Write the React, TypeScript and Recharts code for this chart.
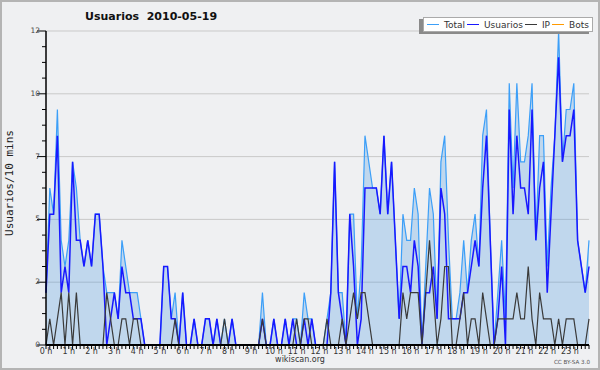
import { Area, CartesianGrid, ComposedChart, Legend, Line, XAxis, YAxis } from "recharts"

// users per 10-minute slot, 00:00 .. 23:50 (12 slots = 2 hours per row)
const total = [
  2, 6, 5, 9, 4, 3, 4, 7, 6, 4, 3, 4,
  3, 5, 5, 3, 2, 2, 2, 1, 4, 3, 2, 2,
  2, 1, 0, 0, 0, 0, 0, 3, 3, 1, 2, 0,
  2, 0, 0, 1, 0, 0, 1, 1, 0, 1, 0, 1,
  0, 1, 0, 0, 0, 0, 0, 0, 0, 2, 0, 0,
  1, 0, 0, 1, 0, 1, 1, 0, 2, 1, 1, 0,
  0, 0, 1, 2, 7, 2, 2, 0, 5, 5, 1, 3,
  8, 7, 6, 6, 5, 8, 5, 7, 4, 1, 5, 4,
  4, 6, 5, 0, 3, 6, 5, 1, 7, 8, 4, 1,
  1, 2, 4, 2, 4, 5, 3, 8, 9, 4, 0, 2,
  4, 1, 10, 6, 10, 7, 7, 8, 10, 4, 8, 8,
  3, 6, 8, 12, 7, 9, 9, 10, 4, 3, 2, 4,
]

const usuarios = [
  2, 5, 5, 8, 2, 3, 2, 7, 4, 4, 3, 4,
  3, 5, 5, 3, 0, 1, 2, 1, 3, 2, 2, 1,
  1, 1, 0, 0, 0, 0, 0, 3, 3, 1, 1, 0,
  2, 0, 0, 1, 0, 0, 1, 1, 0, 1, 0, 0,
  0, 1, 0, 0, 0, 0, 0, 0, 0, 1, 0, 0,
  1, 0, 0, 1, 0, 1, 0, 0, 1, 0, 1, 0,
  0, 0, 0, 2, 7, 2, 1, 0, 5, 3, 0, 1,
  6, 6, 6, 6, 5, 8, 5, 7, 4, 1, 3, 3,
  2, 4, 3, 0, 2, 2, 3, 1, 6, 5, 1, 1,
  1, 1, 2, 2, 3, 4, 3, 6, 8, 4, 0, 1,
  3, 0, 9, 5, 8, 6, 6, 5, 9, 4, 6, 7,
  2, 5, 8, 11, 7, 8, 8, 9, 4, 3, 2, 3,
]

const ip = [
  0, 1, 0, 1, 2, 0, 2, 0, 2, 0, 0, 0,
  0, 0, 0, 0, 2, 1, 0, 0, 1, 1, 0, 1,
  1, 0, 0, 0, 0, 0, 0, 0, 0, 0, 1, 0,
  0, 0, 0, 0, 0, 0, 0, 0, 0, 0, 0, 1,
  0, 0, 0, 0, 0, 0, 0, 0, 0, 1, 0, 0,
  0, 0, 0, 0, 0, 0, 1, 0, 1, 1, 0, 0,
  0, 0, 1, 0, 0, 0, 1, 0, 1, 2, 1, 2,
  2, 1, 0, 0, 0, 0, 0, 0, 0, 0, 2, 1,
  2, 2, 2, 0, 2, 4, 2, 0, 1, 3, 3, 0,
  0, 1, 2, 0, 1, 1, 0, 2, 1, 0, 0, 1,
  1, 1, 1, 1, 2, 1, 1, 3, 1, 0, 2, 1,
  1, 1, 0, 1, 0, 1, 1, 1, 0, 0, 0, 1,
]

const bots = [
  0, 0, 0, 0, 0, 0, 0, 0, 0, 0, 0, 0,
  0, 0, 0, 0, 0, 0, 0, 0, 0, 0, 0, 0,
  0, 0, 0, 0, 0, 0, 0, 0, 0, 0, 0, 0,
  0, 0, 0, 0, 0, 0, 0, 0, 0, 0, 0, 0,
  0, 0, 0, 0, 0, 0, 0, 0, 0, 0, 0, 0,
  0, 0, 0, 0, 0, 0, 0, 0, 0, 0, 0, 0,
  0, 0, 0, 0, 0, 0, 0, 0, 0, 0, 0, 0,
  0, 0, 0, 0, 0, 0, 0, 0, 0, 0, 0, 0,
  0, 0, 0, 0, 0, 0, 0, 0, 0, 0, 0, 0,
  0, 0, 0, 0, 0, 0, 0, 0, 0, 0, 0, 0,
  0, 0, 0, 0, 0, 0, 0, 0, 0, 0, 0, 0,
  0, 0, 0, 0, 0, 0, 0, 0, 0, 0, 0, 0,
]

const hourLabels = [
  "0 h", "1 h", "2 h", "3 h", "4 h", "5 h", "6 h", "7 h", "8 h", "9 h", "10 h", "11 h",
  "12 h", "13 h", "14 h", "15 h", "16 h", "17 h", "18 h", "19 h", "20 h", "21 h", "22 h", "23 h",
]

// every 4th tick is a labelled one (0, 2.4, 4.8 ...)
const yTicks = [0, 0.6, 1.2, 1.8, 2.4, 3, 3.6, 4.2, 4.8, 5.4, 6, 6.6, 7.2, 7.8, 8.4, 9, 9.6, 10.2, 10.8, 11.4, 12]
const yMajor = [0, 2.4, 4.8, 7.2, 9.6, 12]

const series = [
  { key: "total", name: "Total", color: "#3c9ff8" },
  { key: "usuarios", name: "Usuarios", color: "#1818ff" },
  { key: "ip", name: "IP", color: "#3a3a3a" },
  { key: "bots", name: "Bots", color: "#ff9a00" },
]

const data = total.map((t, i) => ({ slot: i, total: t, usuarios: usuarios[i], ip: ip[i], bots: bots[i] }))
const slots = data.map((d) => d.slot)

const font = "'DejaVu Sans', sans-serif"

function XTick(props: any) {
  const { x, y, payload } = props
  const v = payload.value
  const hour = v % 6 === 0
  return (
    <g>
      <line x1={x} x2={x} y1={y} y2={y + 4} stroke="#000" strokeWidth={1} />
      {hour && (
        <text x={x} y={y + 9} textAnchor="middle" fontSize={8} fontFamily={font} fill="#333">
          {hourLabels[v / 6]}
        </text>
      )}
    </g>
  )
}

function YTick(props: any) {
  const { x, y, payload, index } = props
  const major = index % 4 === 0
  return (
    <g>
      <line x1={x - (major ? 9 : 4)} x2={x} y1={y} y2={y} stroke="#000" strokeWidth={1} />
      {major && (
        <text x={x - 6} y={y + 2} textAnchor="end" fontSize={7.5} fontFamily={font} fill="#444">
          {Math.round(payload.value)}
        </text>
      )}
    </g>
  )
}

function LegendBox() {
  return (
    <div style={{ position: "relative", width: 170 }}>
      <div style={{ position: "absolute", left: -4, top: 2, width: 170, height: 15, background: "#8a8a8a" }} />
      <div
        style={{
          position: "relative",
          boxSizing: "border-box",
          display: "flex",
          alignItems: "center",
          width: 170,
          height: 15,
          background: "#fff",
          border: "1px solid #aaa",
          padding: "0 3px 0 3px",
          font: `9px ${font}`,
          color: "#333",
          whiteSpace: "nowrap",
        }}
      >
        {series.map((s) => (
          <span key={s.key} style={{ display: "flex", alignItems: "center", marginRight: 2 }}>
            <span style={{ display: "inline-block", width: 12, height: 0, borderTop: `1.5px solid ${s.color}`, marginRight: 5 }} />
            {s.name}
          </span>
        ))}
      </div>
    </div>
  )
}

export default function App() {
  return (
    <div style={{ position: "fixed", left: 0, top: 0, width: 600, height: 370, background: "#eff0f2", fontFamily: font }}>
      <ComposedChart width={600} height={370} data={data} margin={{ top: 31, right: 11, bottom: 5, left: 6 }}>
        <CartesianGrid vertical={false} horizontalValues={yMajor} stroke="#c9c9c9" />
        <XAxis
          dataKey="slot"
          type="number"
          domain={[0, 143]}
          ticks={slots}
          interval={0}
          height={20}
          tickSize={0}
          tickMargin={0}
          tickLine={false}
          tick={<XTick />}
          axisLine={{ stroke: "#000", strokeWidth: 2 }}
        />
        <YAxis
          type="number"
          domain={[0, 12]}
          ticks={yTicks}
          interval={0}
          width={40}
          tickSize={0}
          tickMargin={0}
          tickLine={false}
          tick={<YTick />}
          axisLine={{ stroke: "#000", strokeWidth: 1.5 }}
        />
        <Legend
          layout="vertical"
          align="center"
          verticalAlign="middle"
          content={<LegendBox />}
          wrapperStyle={{ left: 423, top: 17, width: 170, height: 17 }}
        />
        <Area
          type="linear"
          dataKey="total"
          name="Total"
          stroke={series[0].color}
          strokeWidth={1.2}
          fill="#3a8fe0"
          fillOpacity={0.26}
          dot={false}
          activeDot={false}
          isAnimationActive={false}
        />
        <Line type="linear" dataKey="usuarios" name="Usuarios" stroke={series[1].color} strokeWidth={1.5} dot={false} activeDot={false} isAnimationActive={false} />
        <Line type="linear" dataKey="ip" name="IP" stroke={series[2].color} strokeWidth={1.2} dot={false} activeDot={false} isAnimationActive={false} />
        <Line type="linear" dataKey="bots" name="Bots" stroke={series[3].color} strokeWidth={1.2} dot={false} activeDot={false} isAnimationActive={false} />
      </ComposedChart>

      <div style={{ position: "absolute", left: 85, top: 10, fontSize: 11, fontWeight: "bold", lineHeight: "13px", color: "#111", whiteSpace: "pre" }}>
        {"Usuarios  2010-05-19"}
      </div>
      <div
        style={{
          position: "absolute",
          left: 9,
          top: 183,
          transform: "translate(-50%, -50%) rotate(-90deg)",
          fontFamily: "'DejaVu Sans Mono', monospace",
          fontSize: 11,
          color: "#222",
          whiteSpace: "nowrap",
        }}
      >
        Usuarios/10 mins
      </div>
      <div style={{ position: "absolute", left: 300, top: 355, transform: "translateX(-50%)", fontSize: 8, lineHeight: "10px", color: "#333" }}>
        wikiscan.org
      </div>
      <div style={{ position: "absolute", right: 10, top: 359, fontSize: 5.6, lineHeight: "7px", color: "#555", whiteSpace: "nowrap" }}>
        CC BY-SA 3.0
      </div>
      <div style={{ position: "absolute", left: 0, top: 0, width: 600, height: 370, boxSizing: "border-box", border: "2px solid #b4b4b4", pointerEvents: "none" }} />
    </div>
  )
}
